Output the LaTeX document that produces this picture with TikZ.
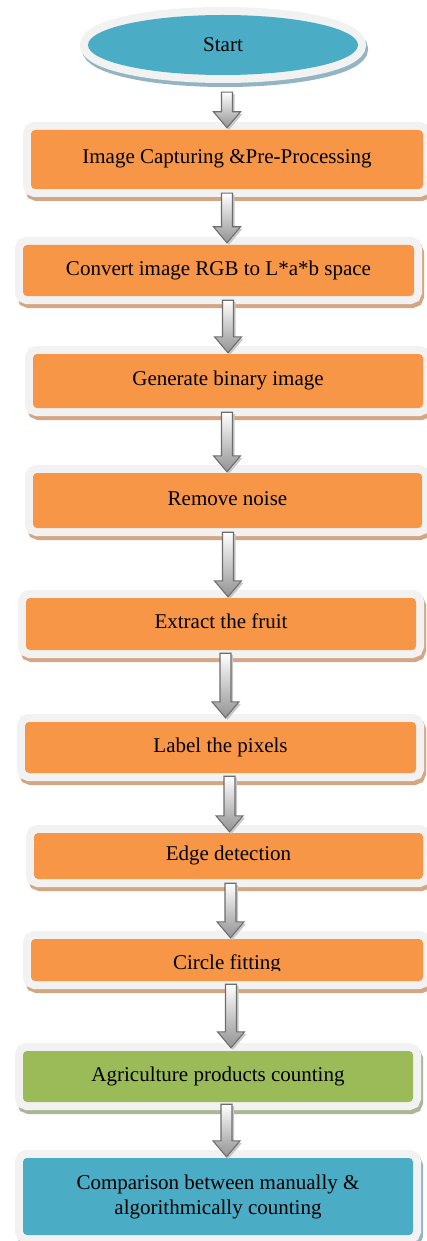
\documentclass[tikz,border=0pt]{standalone}
\usepackage{fontspec}
\setmainfont{Liberation Serif}
\usetikzlibrary{shapes.geometric,calc}
\definecolor{orangefill}{HTML}{F79646}
\definecolor{greenfill}{HTML}{9BBB59}
\definecolor{bluefill}{HTML}{4BACC6}
\definecolor{ringgray}{HTML}{F2F2F2}
\definecolor{orangeshadow}{HTML}{D4A684}
\definecolor{greenshadow}{HTML}{A9B698}
\definecolor{blueshadow}{HTML}{93B5C1}
\definecolor{arrowedge}{HTML}{6E6E6E}
\definecolor{arrowshade}{HTML}{C8C8C8}
\tikzset{
  framed/.style 2 args={
    preaction={draw=#2, line width=16pt, transform canvas={shift={(2pt,-4pt)}}},
    preaction={draw=ringgray, line width=16pt},
    fill=#1},
  boxtext/.style={font=\fontsize{21}{25}\selectfont, text=black, align=center},
  procbox/.style 2 args={rectangle, rounded corners=4pt, inner sep=0pt, boxtext, framed={#1}{#2}},
  oneline/.style={text height=14pt, text depth=5pt},
  startshape/.style={ellipse, inner sep=0pt, boxtext, framed={bluefill}{blueshadow}},
  arrowbody/.style={draw=arrowedge, line width=1.1pt, line join=miter, top color=white, bottom color=gray!85},
  arrowshadowstyle/.style={fill=arrowshade, transform canvas={shift={(2pt,-2pt)}}}
}
% #1 x of the arrow axis, #2 from node, #3 to node, #4 gap below #2, #5 gap above #3
\newcommand\flowarrow[5]{%
  \coordinate (tmpS) at ($(#2.south)+(0,#4)$);
  \coordinate (tmpE) at ($(#3.north)+(0,-#5)$);
  \coordinate (aT) at (#1,0 |- tmpS);
  \coordinate (aB) at (#1,0 |- tmpE);
  \fill[arrowshadowstyle] ($(aT)+(-5.5,0)$) -- ($(aT)+(5.5,0)$) -- ($(aB)+(5.5,-16)$) -- ($(aB)+(13.5,-16)$) -- (aB) -- ($(aB)+(-13.5,-16)$) -- ($(aB)+(-5.5,-16)$) -- cycle;
  \draw[arrowbody] ($(aT)+(-5.5,0)$) -- ($(aT)+(5.5,0)$) -- ($(aB)+(5.5,-16)$) -- ($(aB)+(13.5,-16)$) -- (aB) -- ($(aB)+(-13.5,-16)$) -- ($(aB)+(-5.5,-16)$) -- cycle;
}
\begin{document}
\begin{tikzpicture}[x=1pt,y=-1pt]
\useasboundingbox[fill=white] (0,0) rectangle (427,1241);

\node[startshape, minimum width=270pt, minimum height=60pt] (start) at (223,45) {Start};

\node[procbox={orangefill}{orangeshadow}, oneline, minimum width=392pt, minimum height=59pt] (b1) at (227,159.5) {Image Capturing \&Pre-Processing};
\node[procbox={orangefill}{orangeshadow}, oneline, minimum width=391pt, minimum height=51pt] (b2) at (218.5,270.5) {Convert image RGB to L*a*b space};
\node[procbox={orangefill}{orangeshadow}, oneline, minimum width=390pt, minimum height=54pt] (b3) at (228,381) {Generate binary image};
\node[procbox={orangefill}{orangeshadow}, oneline, minimum width=389pt, minimum height=55pt] (b4) at (227.5,500.5) {Remove noise};
\node[procbox={orangefill}{orangeshadow}, oneline, minimum width=390pt, minimum height=52pt] (b5) at (221,624) {Extract the fruit};
\node[procbox={orangefill}{orangeshadow}, oneline, minimum width=391pt, minimum height=51pt] (b6) at (220.5,747.5) {Label the pixels};
\node[procbox={orangefill}{orangeshadow}, oneline, minimum width=389pt, minimum height=46pt] (b7) at (228.5,856) {Edge detection};
\node[procbox={orangefill}{orangeshadow}, minimum width=392pt, minimum height=42pt] (b8) at (227,960) {};
\begin{scope}
  \clip (0,930) rectangle (427,970.5);
  \node[boxtext, anchor=base, inner sep=0pt] (b8text) at (227,969) {Circle fitting};
\end{scope}
\node[procbox={greenfill}{greenshadow}, oneline, minimum width=390pt, minimum height=51pt] (b9) at (218,1076.5) {Agriculture products counting};
\node[procbox={bluefill}{blueshadow}, minimum width=390pt, minimum height=77pt] (b10) at (218,1196.5) {Comparison between manually \&\\algorithmically counting};

\flowarrow{227}{start}{b1}{17}{2}
\flowarrow{227}{b1}{b2}{4}{2}
\flowarrow{228}{b2}{b3}{4}{1}
\flowarrow{227}{b3}{b4}{4}{1}
\flowarrow{228}{b4}{b5}{4}{1}
\flowarrow{225.5}{b5}{b6}{3}{4}
\flowarrow{229.5}{b6}{b7}{3}{1}
\flowarrow{230.5}{b7}{b8}{4}{1}
\flowarrow{231}{b8}{b9}{3}{3}
\flowarrow{226.5}{b9}{b10}{2}{1}
\end{tikzpicture}
\end{document}
